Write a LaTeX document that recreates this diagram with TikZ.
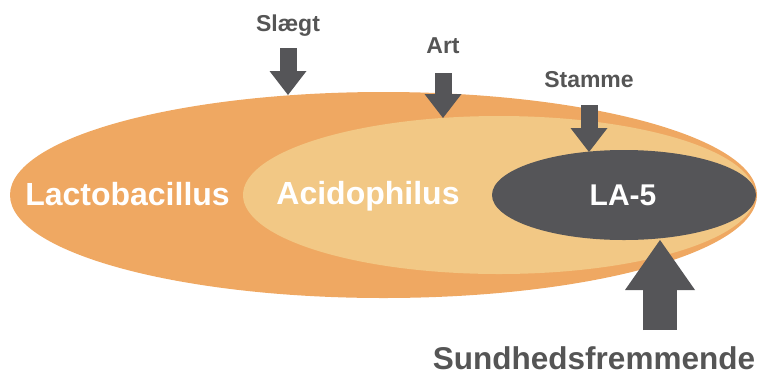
\documentclass[tikz,border=0pt]{standalone}
\usepackage{fontspec}
\setmainfont{Liberation Sans}
\usetikzlibrary{shapes.geometric,arrows.meta}
\definecolor{genusfill}{HTML}{EFA862}
\definecolor{speciesfill}{HTML}{F2C885}
\definecolor{strainfill}{HTML}{555558}
\definecolor{labelgray}{HTML}{555555}
\begin{document}
\begin{tikzpicture}[x=1pt,y=-1pt,
  blob/.style={ellipse, inner sep=0pt},
  ranklabel/.style={anchor=base, text=labelgray, font=\fontsize{23}{27}\selectfont\bfseries},
  taxonlabel/.style={anchor=base, text=white, font=\fontsize{32}{36}\selectfont\bfseries},
  pointer/.style={draw=strainfill, line width=17pt, shorten <=17pt,
    -{Triangle[width=37pt,length=24pt,line width=0pt]}},
  bigpointer/.style={draw=strainfill, line width=34pt, shorten <=42pt,
    -{Triangle[width=70pt,length=50pt,line width=0pt]}}]
\useasboundingbox (0,0) rectangle (761,376);
% nested ellipses
\node[blob, fill=genusfill, minimum width=747pt, minimum height=206pt] (genus) at (383.5,195) {};
\node[blob, fill=speciesfill, minimum width=512pt, minimum height=158pt] (species) at (499,195) {};
\node[blob, fill=strainfill, minimum width=264pt, minimum height=90pt] (strain) at (624,195) {};
\node[taxonlabel] (lacto) at (127.5,205) {Lactobacillus};
\node[taxonlabel] (acido) at (368,204) {Acidophilus};
\node[taxonlabel, font=\fontsize{30}{34}\selectfont\bfseries] (la5) at (623,205) {LA-5};
% rank labels
\node[ranklabel] (slaegt) at (288,31) {Slægt};
\node[ranklabel] (art) at (443,53) {Art};
\node[ranklabel] (stamme) at (589,87) {Stamme};
\node[ranklabel, inner sep=0pt, font=\fontsize{31.5}{36}\selectfont\bfseries] (sundhed) at (594,369) {Sundhedsfremmende};
\coordinate (slaegttip) at (288,95);
\coordinate (arttip) at (443,118);
\coordinate (stammetip) at (589,152);
\coordinate (la5tip) at (660,240);
\draw[pointer] (slaegt.base) -- (slaegttip);
\draw[pointer, shorten <=20pt] (art.base) -- (arttip);
\draw[pointer, shorten <=18pt] (stamme.base) -- (stammetip);
\draw[bigpointer, shorten <=39pt] (sundhed.base -| la5tip) -- (la5tip);
\end{tikzpicture}
\end{document}
